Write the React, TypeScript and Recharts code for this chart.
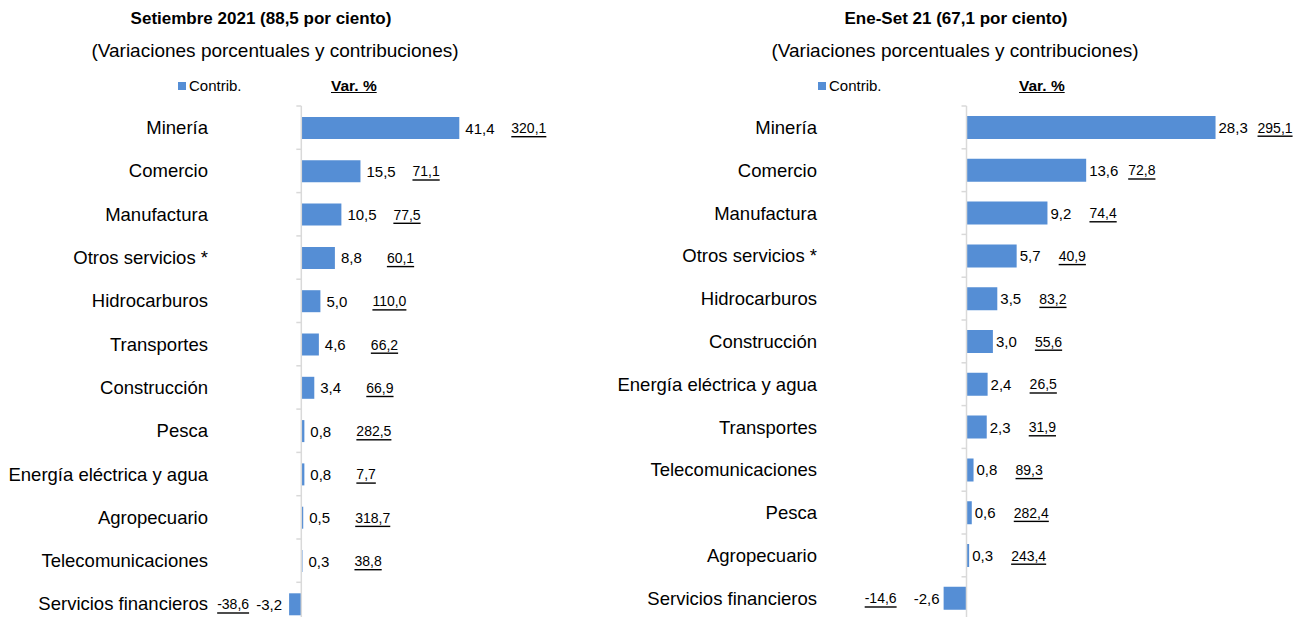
import { Bar, BarChart, LabelList, ReferenceLine, XAxis, YAxis } from "recharts"

// Setiembre 2021
const mesCategorias = [
  "Minería",
  "Comercio",
  "Manufactura",
  "Otros servicios *",
  "Hidrocarburos",
  "Transportes",
  "Construcción",
  "Pesca",
  "Energía eléctrica y agua",
  "Agropecuario",
  "Telecomunicaciones",
  "Servicios financieros",
]
const mesContrib = [41.4, 15.5, 10.5, 8.8, 5.0, 4.6, 3.4, 0.8, 0.8, 0.5, 0.3, -3.2]
const mesVar = [320.1, 71.1, 77.5, 60.1, 110.0, 66.2, 66.9, 282.5, 7.7, 318.7, 38.8, -38.6]

// Enero - Setiembre 2021
const anoCategorias = [
  "Minería",
  "Comercio",
  "Manufactura",
  "Otros servicios *",
  "Hidrocarburos",
  "Construcción",
  "Energía eléctrica y agua",
  "Transportes",
  "Telecomunicaciones",
  "Pesca",
  "Agropecuario",
  "Servicios financieros",
]
const anoContrib = [28.3, 13.6, 9.2, 5.7, 3.5, 3.0, 2.4, 2.3, 0.8, 0.6, 0.3, -2.6]
const anoVar = [295.1, 72.8, 74.4, 40.9, 83.2, 55.6, 26.5, 31.9, 89.3, 282.4, 243.4, -14.6]

const FONT = "'Liberation Sans', Arial, sans-serif"
const BLUE = "#558ED5"
const GRID = "#d9d9d9"

const fmt = (v: number) => v.toFixed(1).replace(".", ",")

function ZeroAxis(props: any) {
  const { x1, y1, y2, count } = props
  const top = Math.min(y1, y2)
  const bottom = Math.max(y1, y2)
  const band = (bottom - top) / count
  const marks = []
  for (let i = 0; i <= count; i++) {
    const y = top + i * band
    marks.push(<line key={i} x1={x1 - 5} x2={x1} y1={y} y2={y} stroke={GRID} strokeWidth={1.5} />)
  }
  return (
    <g>
      <line x1={x1} x2={x1} y1={top} y2={bottom} stroke={GRID} strokeWidth={1.5} />
      {marks}
    </g>
  )
}

function CategoryTick(props: any) {
  const { x, y, payload } = props
  return (
    <text x={x} y={y} textAnchor="end" dominantBaseline="central" fontSize={18.5} fill="#000" fontFamily={FONT}>
      {payload.value}
    </text>
  )
}

type PanelProps = {
  categories: string[]
  contrib: number[]
  variation: number[]
  width: number
  axisWidth: number
  labelMargin: number
  domain: [number, number]
  marginRight: number
  marginBottom: number
  barSize: number
  gap: number
  varGap: number
  negVarGap: number
}

function Panel(p: PanelProps) {
  const data = p.categories.map((name, i) => ({ name, contrib: p.contrib[i], variation: p.variation[i] }))

  const renderLabels = (props: any) => {
    const { x, y, width, height, index } = props
    const v = data[index].contrib
    const left = Math.min(x, x + width)
    const right = Math.max(x, x + width)
    const cy = y + height / 2
    if (v >= 0) {
      return (
        <g>
          <text x={right + p.gap} y={cy} dominantBaseline="central" fontSize={15} fill="#000" fontFamily={FONT}>
            {fmt(v)}
          </text>
          <text
            x={right + p.varGap}
            y={cy}
            dominantBaseline="central"
            fontSize={14}
            fill="#000"
            fontFamily={FONT}
            style={{ textDecoration: "underline" }}
          >
            {fmt(data[index].variation)}
          </text>
        </g>
      )
    }
    return (
      <g>
        <text x={left - p.gap - 1} y={cy} textAnchor="end" dominantBaseline="central" fontSize={15} fill="#000" fontFamily={FONT}>
          {fmt(v)}
        </text>
        <text
          x={left - p.negVarGap}
          y={cy}
          textAnchor="end"
          dominantBaseline="central"
          fontSize={14}
          fill="#000"
          fontFamily={FONT}
          style={{ textDecoration: "underline" }}
        >
          {fmt(data[index].variation)}
        </text>
      </g>
    )
  }

  return (
    <BarChart
      width={p.width}
      height={640}
      data={data}
      layout="vertical"
      margin={{ top: 106, right: p.marginRight, bottom: p.marginBottom, left: 0 }}
    >
      <XAxis type="number" domain={p.domain} hide allowDataOverflow />
      <YAxis
        type="category"
        dataKey="name"
        width={p.axisWidth}
        axisLine={false}
        tickLine={false}
        tickSize={0}
        tickMargin={p.labelMargin}
        tick={<CategoryTick />}
        interval={0}
      />
      <Bar dataKey="contrib" fill={BLUE} barSize={p.barSize} isAnimationActive={false}>
        <LabelList dataKey="contrib" content={renderLabels} />
      </Bar>
      <ReferenceLine x={0} shape={(props: any) => <ZeroAxis {...props} count={data.length} />} />
    </BarChart>
  )
}

function Header({ center, subCenter, title, legendX, varX }: any) {
  return (
    <>
      <div
        style={{
          position: "absolute",
          left: center - 250,
          width: 500,
          top: 8,
          textAlign: "center",
          fontSize: 17,
          fontWeight: "bold",
          lineHeight: "22px",
        }}
      >
        {title}
      </div>
      <div
        style={{
          position: "absolute",
          left: subCenter - 250,
          width: 500,
          top: 39,
          textAlign: "center",
          fontSize: 19,
          lineHeight: "24px",
        }}
      >
        (Variaciones porcentuales y contribuciones)
      </div>
      <div style={{ position: "absolute", left: legendX, top: 76, fontSize: 15, lineHeight: "20px", display: "flex", alignItems: "center" }}>
        <span style={{ display: "inline-block", width: 8, height: 8, background: BLUE, marginRight: 3 }} />
        Contrib.
      </div>
      <div
        style={{
          position: "absolute",
          left: varX,
          top: 76,
          fontSize: 15.5,
          fontWeight: "bold",
          lineHeight: "20px",
          textDecoration: "underline",
        }}
      >
        Var. %
      </div>
    </>
  )
}

export default function App() {
  return (
    <div
      style={{
        position: "absolute",
        left: 0,
        top: 0,
        width: 1309,
        height: 617,
        overflow: "hidden",
        background: "#fff",
        fontFamily: FONT,
        color: "#000",
      }}
    >
      <Header center={261} subCenter={275} title="Setiembre 2021 (88,5 por ciento)" legendX={178} varX={331} />
      <Header center={956} subCenter={955} title="Ene-Set 21 (67,1 por ciento)" legendX={818} varX={1019} />
      <div style={{ position: "absolute", left: 0, top: 0 }}>
        <Panel
          categories={mesCategorias}
          contrib={mesContrib}
          variation={mesVar}
          width={640}
          axisWidth={225}
          labelMargin={17}
          domain={[-20, 80]}
          marginRight={33.4}
          marginBottom={14.4}
          barSize={22}
          gap={6}
          varGap={52}
          negVarGap={40}
        />
      </div>
      <div style={{ position: "absolute", left: 600, top: 0 }}>
        <Panel
          categories={anoCategorias}
          contrib={anoContrib}
          variation={anoVar}
          width={709}
          axisWidth={278.5}
          labelMargin={61.5}
          domain={[-10, 35]}
          marginRight={34.5}
          marginBottom={20.4}
          barSize={23}
          gap={3}
          varGap={42}
          negVarGap={47}
        />
      </div>
    </div>
  )
}
